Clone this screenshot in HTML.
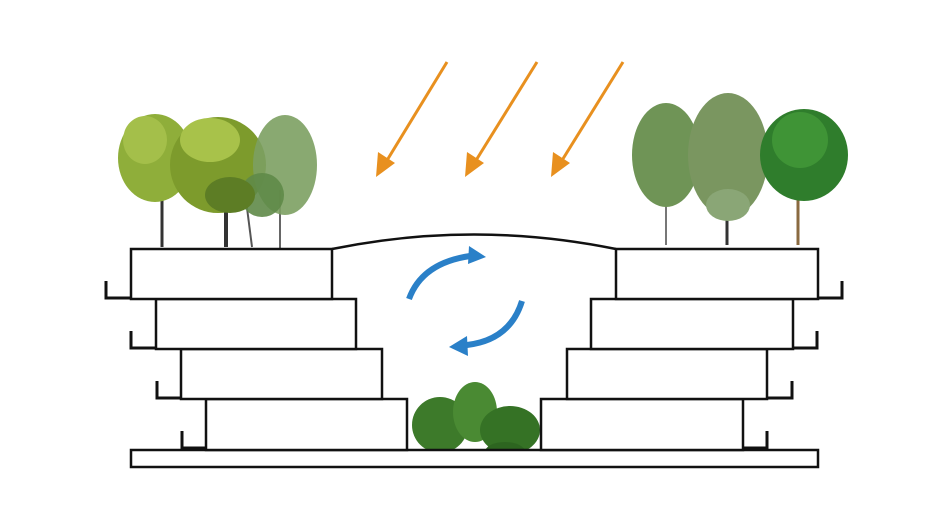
<!DOCTYPE html>
<html><head><meta charset="utf-8"><style>html,body{margin:0;padding:0;background:#fff}svg{display:block}</style></head>
<body>
<svg width="942" height="510" viewBox="0 0 942 510" xmlns="http://www.w3.org/2000/svg">
<!-- left trees -->
<g>
<line x1="162" y1="180" x2="162" y2="247" stroke="#333" stroke-width="3"/>
<line x1="226" y1="190" x2="226" y2="247" stroke="#333" stroke-width="4"/>
<line x1="246" y1="200" x2="252" y2="247" stroke="#555" stroke-width="2"/>
<line x1="280" y1="190" x2="280" y2="250" stroke="#666" stroke-width="2"/>
<ellipse cx="155" cy="158" rx="37" ry="44" fill="#8fae3a"/>
<ellipse cx="145" cy="140" rx="22" ry="24" fill="#a4bf4a"/>
<ellipse cx="218" cy="165" rx="48" ry="48" fill="#7d9b2c"/>
<ellipse cx="210" cy="140" rx="30" ry="22" fill="#a8c24a"/>
<ellipse cx="285" cy="165" rx="32" ry="50" fill="#7ca062" opacity="0.9"/>
<ellipse cx="262" cy="195" rx="22" ry="22" fill="#5f8a48" opacity="0.9"/>
<ellipse cx="230" cy="195" rx="25" ry="18" fill="#5d7d25"/>
</g>
<!-- right trees -->
<g>
<line x1="666" y1="190" x2="666" y2="245" stroke="#777" stroke-width="2"/>
<line x1="727" y1="190" x2="727" y2="245" stroke="#333" stroke-width="3"/>
<line x1="798" y1="190" x2="798" y2="245" stroke="#8a6a40" stroke-width="3"/>
<ellipse cx="666" cy="155" rx="34" ry="52" fill="#6f9456"/>
<ellipse cx="728" cy="155" rx="40" ry="62" fill="#7a9660"/>
<ellipse cx="728" cy="205" rx="22" ry="16" fill="#8aa676"/>
<ellipse cx="804" cy="155" rx="44" ry="46" fill="#2f7d2c"/>
<ellipse cx="800" cy="140" rx="28" ry="28" fill="#3f9436"/>
</g>
<!-- shrub -->
<g>
<ellipse cx="440" cy="425" rx="28" ry="28" fill="#3d7a2a"/>
<ellipse cx="475" cy="412" rx="22" ry="30" fill="#4a8a33"/>
<ellipse cx="510" cy="430" rx="30" ry="24" fill="#357225"/>
<ellipse cx="505" cy="452" rx="20" ry="10" fill="#2d6520"/>
</g>
<!-- orange arrows -->
<g stroke="#e8901f" stroke-width="3" fill="#e8901f">
<line x1="447" y1="62" x2="386" y2="162"/>
<line x1="537" y1="62" x2="475" y2="162"/>
<line x1="623" y1="62" x2="561" y2="162"/>
<polygon points="376,177 378,152 395,163" stroke="none"/>
<polygon points="465,177 467,152 484,163" stroke="none"/>
<polygon points="551,177 553,152 570,163" stroke="none"/>
</g>
<!-- blue arrows -->
<g fill="none" stroke="#2a80c8" stroke-width="6">
<path d="M409,299 Q422,263 470,256"/>
<path d="M522,301 Q510,340 467,345"/>
</g>
<polygon points="486,257 469,246 468,264" fill="#2a80c8"/>
<polygon points="449,347 467,336 468,356" fill="#2a80c8"/>
<!-- structure -->
<g fill="#fff" stroke="#111" stroke-width="2.5">
<path d="M332,249 Q474,220 616,249" fill="none"/>
<rect x="131" y="450" width="687" height="17"/>
<rect x="206" y="399" width="201" height="51"/>
<rect x="181" y="349" width="201" height="50"/>
<rect x="156" y="299" width="200" height="50"/>
<rect x="131" y="249" width="201" height="50"/>
<rect x="541" y="399" width="202" height="51"/>
<rect x="567" y="349" width="200" height="50"/>
<rect x="591" y="299" width="202" height="50"/>
<rect x="616" y="249" width="202" height="50"/>
</g>
<g fill="none" stroke="#111" stroke-width="3">
<path d="M106,281 V298 H131"/>
<path d="M131,331 V348 H156"/>
<path d="M157,381 V398 H181"/>
<path d="M182,431 V448 H206"/>
<path d="M842,281 V298 H818"/>
<path d="M817,331 V348 H793"/>
<path d="M792,381 V398 H767"/>
<path d="M767,431 V448 H743"/>
</g>
</svg>
</body></html>
